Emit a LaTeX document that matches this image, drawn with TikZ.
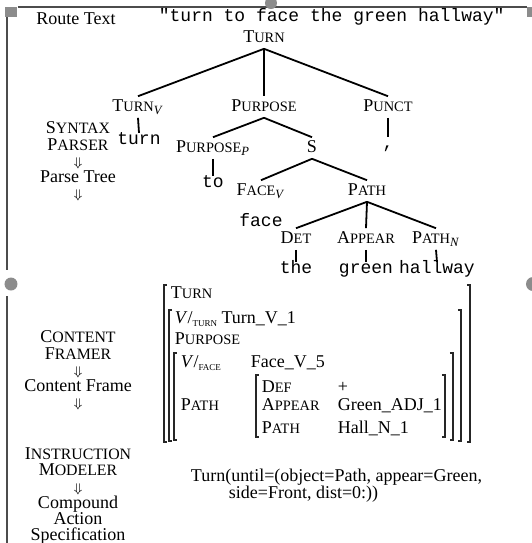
\documentclass[tikz,border=0pt]{standalone}
\usepackage{fontspec}
\setmainfont{Liberation Serif}
\setmonofont{Liberation Mono}
\newcommand\ssc[3][8]{#2{\fontsize{#1}{9}\selectfont #3}}
\newcommand\vsub[1]{\textsubscript{\textit{#1}}}
\newcommand\tsub[1]{\raisebox{-.4ex}{\fontsize{5}{5}\selectfont #1}}
\newcommand\dnarr{$\scriptstyle\Downarrow$}
% left x, right x, top y, bottom y
\newcommand\avmbrk[4]{%
  \draw[brk] (#1+3,#3) -- (#1,#3) -- (#1,#4) -- (#1+3,#4);
  \draw[brk] (#2-3,#3) -- (#2,#3) -- (#2,#4) -- (#2-3,#4);}

\begin{document}
\begin{tikzpicture}[-,x=0.5556pt,y=-0.5556pt,line width=1pt,
  cat/.style={inner sep=1pt, text height=7pt, text depth=2pt},
  wrd/.style={inner sep=1pt, text height=5pt, text depth=1pt, font=\ttfamily},
  stage/.style={align=center, inner sep=0pt, anchor=north,
    font=\fontsize{10}{9}\selectfont},
  avm/.style={inner sep=0pt, anchor=base west},
  brk/.style={line width=0.6pt, draw=black!85},
  frame/.style={line width=1.2pt, draw=black!70},
  handle/.style={fill=black!45}]
  \useasboundingbox (0,0) rectangle (532,543);

  % window frame and handles
  \draw[frame] (18,7) -- (527,7);
  \draw[frame] (7,17) -- (7,543);
  \fill[handle] (5,7) rectangle (17,17);
  \fill[handle] (527,7) rectangle (532,17);
  \fill[handle] (271,3) circle (6);
  \fill[white] (6,270) rectangle (9,296);
  \fill[handle] (11,284) circle (6.5);
  \fill[handle] (533,284) circle (7);

  % stages
  \node (route)  [inner sep=0pt] at (76,19) {Route Text};
  \node (syntax) [stage] at (78,121)
    {\ssc[8.8]{S}{YNTAX}\\ \ssc[8.8]{P}{ARSER}\\ \dnarr\\ Parse Tree\\ \dnarr};
  \node (framer) [stage] at (78,330)
    {\ssc[8.8]{C}{ONTENT}\\ \ssc[8.8]{F}{RAMER}\\ \dnarr\\ Content Frame\\ \dnarr};
  \node (modeler) [stage] at (78,447)
    {\ssc[8.8]{I}{NSTRUCTION}\\ \ssc[8.8]{M}{ODELER}\\ \dnarr\\ Compound\\ Action\\ Specification};

  % route text
  \node (sent) [inner sep=0pt, anchor=west, font=\ttfamily] at (158,17)
    {"turn to face the green hallway"};

  % parse tree
  \node (turn)     [cat] at (264,38)  {\ssc{T}{URN}};
  \node (turnv)    [cat] at (138,107) {\ssc{T}{URN}\vsub{V}};
  \node (purpose)  [cat] at (264,107) {\ssc{P}{URPOSE}};
  \node (punct)    [cat] at (388,107) {\ssc{P}{UNCT}};
  \node (purposep) [cat] at (213,148) {\ssc{P}{URPOSE}\vsub{P}};
  \node (s)        [cat] at (312,148) {S};
  \node (facev)    [cat] at (261,191) {\ssc{F}{ACE}\vsub{V}};
  \node (path)     [cat] at (367,191) {\ssc{P}{ATH}};
  \node (det)      [cat] at (296,239) {\ssc{D}{ET}};
  \node (appear)   [cat] at (366,239) {\ssc{A}{PPEAR}};
  \node (pathn)    [cat] at (436,239) {\ssc{P}{ATH}\vsub{N}};

  \node (wturn)  [wrd] at (139,141) {turn};
  \node (wcomma) [wrd] at (388,145) {,};
  \node (wto)    [wrd] at (213,184) {to};
  \node (wface)  [wrd] at (261,223) {face};
  \node (wthe)   [wrd] at (296,270) {the};
  \node (wgreen) [wrd] at (366,270) {green};
  \node (whall)  [wrd] at (437,270) {hallway};

  \path (turn.south)     edge (turnv.north)
                         edge (purpose.north)
                         edge (punct.north)
        (purpose.south)  edge (purposep.north)
                         edge (s.north)
        (s.south)        edge (facev.north)
                         edge (path.north)
        (path.south)     edge (det.north)
                         edge (appear.north)
                         edge (pathn.north)
        (turnv.south)    edge (wturn.north)
        (punct.south)    edge (wcomma.north)
        (purposep.south) edge (wto.north)
        (det.south)      edge (wthe.north)
        (appear.south)   edge (wgreen.north)
        (pathn.south)    edge (whall.north);

  % content frame
  \avmbrk{164}{470}{285}{442}
  \avmbrk{169}{461}{310}{441}
  \avmbrk{174}{453}{353}{440}
  \avmbrk{256}{445}{375}{437}
  \node (fturn)  [avm] at (170,298) {\ssc{T}{URN}};
  \node (fvturn) [avm] at (174,323) {\textit{V}/\tsub{TURN} Turn\_V\_1};
  \node (fpurp)  [avm] at (174,344) {\ssc{P}{URPOSE}};
  \node (fvface) [avm] at (180,367) {\textit{V}/\tsub{FACE}};
  \node (fface)  [avm] at (250,367) {Face\_V\_5};
  \node (fpath)  [avm] at (180,410) {\ssc{P}{ATH}};
  \node (fdet)   [avm] at (261,392) {\ssc{D}{EF}};
  \node (fdetv)  [avm] at (337,392) {+};
  \node (fapp)   [avm] at (261,410) {\ssc{A}{PPEAR}};
  \node (fappv)  [avm] at (337,410) {Green\_ADJ\_1};
  \node (fpth)   [avm] at (261,433) {\ssc{P}{ATH}};
  \node (fpthv)  [avm] at (337,433) {Hall\_N\_1};

  % compound action specification
  \node (spec1) [avm] at (190,481) {Turn(until=(object=Path, appear=Green,};
  \node (spec2) [avm] at (228,498) {side=Front, dist=0:))};
\end{tikzpicture}
\end{document}
